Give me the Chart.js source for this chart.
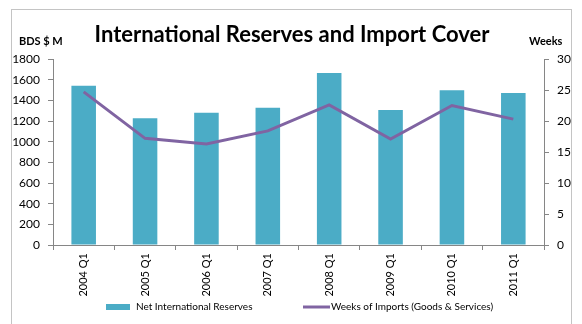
<!DOCTYPE html>
<html>
<head>
<meta charset="utf-8">
<script src="https://cdn.jsdelivr.net/npm/chart.js@4/dist/chart.umd.min.js"></script>
<style>
  html, body { margin: 0; padding: 0; background: #fff; }
  #wrap { width: 582px; height: 324px; position: relative; }
</style>
</head>
<body>
<div id="wrap"><canvas id="reservesChart" width="582" height="324"></canvas></div>
<script>
// Données
const periodes = ['2004 Q1', '2005 Q1', '2006 Q1', '2007 Q1', '2008 Q1', '2009 Q1', '2010 Q1', '2011 Q1'];
const reservesNettes = [1540, 1226, 1281, 1329, 1665, 1307, 1497, 1471];
const semainesImport = [24.7, 17.2, 16.3, 18.4, 22.6, 17.1, 22.5, 20.3];
const ticksGauche = [0, 200, 400, 600, 800, 1000, 1200, 1400, 1600, 1800];
const ticksDroite = [0, 5, 10, 15, 20, 25, 30];

const police = 'Lato, "Open Sans", sans-serif';
const gris = '#868686';

// Titre, unités des axes, légende et cadre
const decorPlugin = {
    id: 'decor',
    beforeDraw(chart) {
        const ctx = chart.ctx;
        ctx.save();
        ctx.strokeStyle = '#c4c4c4';
        ctx.lineWidth = 1;
        ctx.strokeRect(11.5, 9.5, 560, 340);
        ctx.restore();
    },
    afterDraw(chart) {
        const ctx = chart.ctx;
        ctx.save();
        ctx.fillStyle = '#000';
        ctx.textBaseline = 'alphabetic';
        ctx.textAlign = 'center';
        ctx.font = 'bold 22px ' + police;
        ctx.fillText('International Reserves and Import Cover', 292, 42);
        ctx.font = 'bold 11px ' + police;
        ctx.textAlign = 'left';
        ctx.fillText('BDS $ M', 19, 45);
        ctx.fillText('Weeks', 529, 45);

        // légende (ordre : barres puis courbe)
        const barres = chart.data.datasets[1];
        const courbe = chart.data.datasets[0];
        const yLeg = 307;
        ctx.font = '10px ' + police;
        ctx.textBaseline = 'middle';
        ctx.fillStyle = barres.backgroundColor;
        ctx.fillRect(106, yLeg - 3, 24, 6);
        ctx.fillStyle = '#000';
        ctx.fillText(barres.label, 136, yLeg);
        ctx.strokeStyle = courbe.borderColor;
        ctx.lineWidth = 3;
        ctx.beginPath();
        ctx.moveTo(303, yLeg);
        ctx.lineTo(330, yLeg);
        ctx.stroke();
        ctx.fillText(courbe.label, 331, yLeg);
        ctx.restore();
    }
};

new Chart(document.getElementById('reservesChart').getContext('2d'), {
    type: 'bar',
    data: {
        labels: periodes,
        datasets: [
            {
                type: 'line',
                label: 'Weeks of Imports (Goods & Services)',
                data: semainesImport,
                yAxisID: 'y1',
                borderColor: '#8064A2',
                backgroundColor: '#8064A2',
                borderWidth: 3,
                pointRadius: 0,
                tension: 0,
                fill: false
            },
            {
                type: 'bar',
                label: 'Net International Reserves',
                data: reservesNettes,
                yAxisID: 'y',
                backgroundColor: '#4BACC6',
                borderWidth: 0,
                barPercentage: 0.4,
                categoryPercentage: 1
            }
        ]
    },
    plugins: [decorPlugin],
    options: {
        responsive: false,
        animation: false,
        layout: { padding: { top: 59, left: 0, right: 0, bottom: 24 } },
        plugins: {
            title: { display: false },
            tooltip: { enabled: false },
            legend: { display: false }
        },
        scales: {
            x: {
                grid: { display: true, drawOnChartArea: false, color: gris, tickLength: 5, offset: true },
                border: { color: gris },
                ticks: {
                    color: '#000',
                    font: { family: police, size: 11 },
                    minRotation: 90,
                    maxRotation: 90,
                    autoSkip: false,
                    padding: 3
                },
                afterFit(scale) { scale.height = 55; }
            },
            y: {
                position: 'left',
                min: 0,
                max: 1800,
                afterBuildTicks(scale) { scale.ticks = ticksGauche.map(v => ({ value: v })); },
                grid: { display: true, drawOnChartArea: false, color: gris, tickLength: 5 },
                border: { color: gris },
                ticks: { color: '#000', font: { family: police, size: 12 }, padding: 8, autoSkip: false, callback: v => String(v) },
                afterFit(scale) { scale.width = 53; }
            },
            y1: {
                position: 'right',
                min: 0,
                max: 30,
                afterBuildTicks(scale) { scale.ticks = ticksDroite.map(v => ({ value: v })); },
                grid: { display: true, drawOnChartArea: false, color: gris, tickLength: 5 },
                border: { color: gris },
                ticks: { color: '#000', font: { family: police, size: 12 }, padding: 8, autoSkip: false, callback: v => String(v) },
                afterFit(scale) { scale.width = 38; }
            }
        }
    }
});
</script>
</body>
</html>
